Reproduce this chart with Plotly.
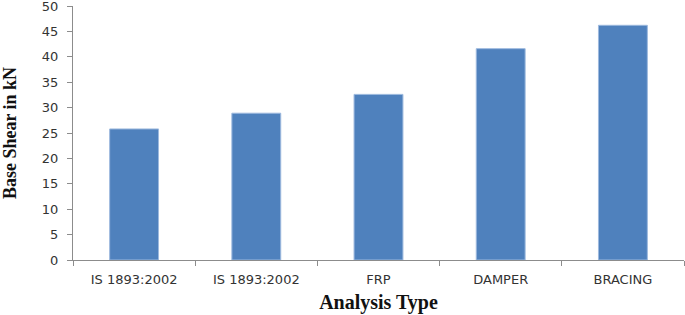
"""Base shear by analysis type - bar chart."""
import plotly.graph_objects as go

categories = ["IS 1893:2002", "IS 1893:2002", "FRP", "DAMPER", "BRACING"]
base_shear = [25.8, 28.9, 32.6, 41.6, 46.2]

positions = list(range(len(categories)))

fig = go.Figure()
fig.add_trace(
    go.Bar(
        x=positions, y=base_shear,
        marker=dict(color="#4F81BD", line=dict(color="#9DB9DE", width=1)),
        width=0.4,
        showlegend=False,
    )
)

fig.update_layout(
    width=685, height=315,
    paper_bgcolor="white",
    plot_bgcolor="white",
    margin=dict(l=73, r=1, t=6, b=55),
    font=dict(family="DejaVu Sans", size=13, color="#333333"),
)
fig.update_xaxes(
    type="category",
    automargin=False,
    tickmode="array",
    tickvals=positions,
    ticktext=categories,
    tickson="boundaries",
    ticks="outside", ticklen=5, tickcolor="#8c8c8c",
    ticklabelstandoff=7,
    showline=True, linecolor="#8c8c8c", linewidth=1,
    showgrid=False,
    tickfont=dict(size=13),
    title=dict(
        text="<b>Analysis Type</b>",
        font=dict(family="Liberation Serif", size=20, color="#111111"),
        standoff=9,
    ),
)
fig.update_yaxes(
    range=[0, 50], dtick=5,
    automargin=False,
    ticklabeloverflow="allow",
    ticks="outside", ticklen=5, tickcolor="#8c8c8c",
    ticklabelstandoff=6,
    showline=True, linecolor="#8c8c8c", linewidth=1,
    showgrid=False, zeroline=False,
    tickfont=dict(size=13),
    title=dict(
        text="<b>Base Shear in kN</b>",
        font=dict(family="Liberation Serif", size=18, color="#111111"),
        standoff=22,
    ),
)

fig.write_html(
    "out.html",
    config={"displayModeBar": False},
    post_script="document.body.style.margin = '0';",
)
